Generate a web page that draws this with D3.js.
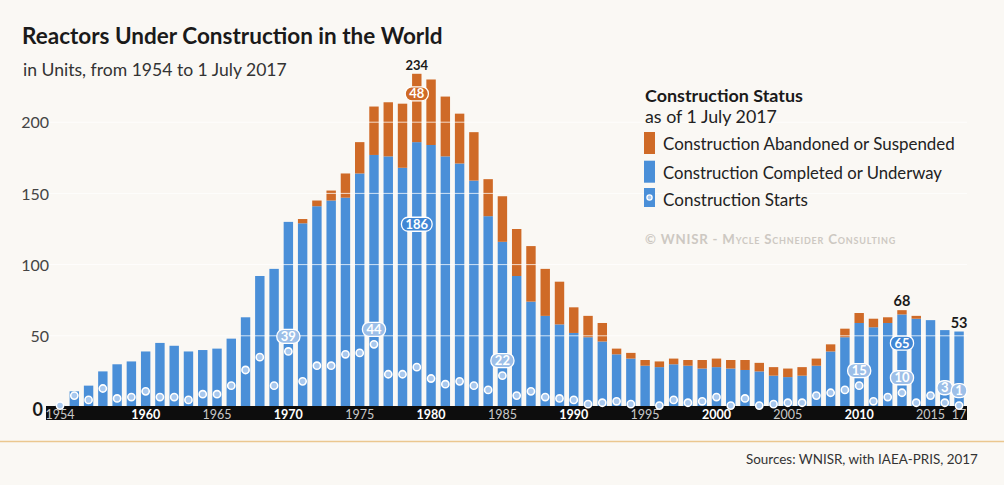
<!DOCTYPE html>
<html><head><meta charset="utf-8">
<script src="https://cdn.jsdelivr.net/npm/d3@7"></script>
<style>body{margin:0;background:#faf8f4}svg{display:block}</style>
</head><body>
<svg id="c" width="1004" height="485"></svg>
<script>
// ---- data ----
const years = [1954,1955,1956,1957,1958,1959,
  1960,1961,1962,1963,1964,1965,1966,1967,1968,1969,
  1970,1971,1972,1973,1974,1975,1976,1977,1978,1979,
  1980,1981,1982,1983,1984,1985,1986,1987,1988,1989,
  1990,1991,1992,1993,1994,1995,1996,1997,1998,1999,
  2000,2001,2002,2003,2004,2005,2006,2007,2008,2009,
  2010,2011,2012,2013,2014,2015,2016,2017];
const completed = [1,11,15,25,30,32,
  39,45,43,39,40,41,48,63,92,97,
  130,129,141,145,147,164,177,176,168,186,
  184,176,171,159,134,116,92,74,64,58,
  52,49,46,37,34,29,28,30,29,27,
  28,27,26,25,22,21,22,29,39,49,
  59,56,59,65,62,61,54,53];
const abandoned = [0,0,0,0,0,0,
  0,0,0,0,0,0,0,0,0,0,
  0,3,4,7,17,22,34,38,45,48,
  46,42,35,34,26,32,33,39,33,30,
  18,15,13,4,4,4,4,4,4,6,
  6,6,7,6,6,6,6,5,5,6,
  7,6,4,3,2,0,0,0];
const starts = [1,8,5,13,6,7,
  11,7,7,5,9,9,15,26,35,15,
  39,18,29,29,37,38,44,23,23,28,
  20,16,18,15,12,22,8,11,7,6,
  5,2,3,4,2,0,1,5,3,4,
  7,1,6,1,2,3,3,8,10,12,
  15,4,7,10,3,8,3,1];
const yTicks = [0,50,100,150,200];
const xTickYears = [1954,1960,1965,1970,1975,1980,1985,1990,1995,2000,2005,2010,2015,2017];
const boldYears = [1960,1970,1980,1990,2000,2010];
const totalLabelYears = [1979,2013,2017];
const startsLabelYears = [1970,1976,1985,2010,2013,2016,2017];
const completedLabelYears = [1979,2013];
const abandonedLabelYears = [1979];
const legendItems = ["Construction Abandoned or Suspended","Construction Completed or Underway","Construction Starts"];

// ---- setup ----
const BLUE = "#4a8fd8", ORANGE = "#cf6a27", FONT = "Lato, 'Noto Sans', sans-serif";
const svg = d3.select("#c");
svg.append("rect").attr("width",1004).attr("height",485).attr("fill","#faf8f4");

const data = years.map((y,i)=>({year:y, blue:completed[i], orange:abandoned[i], total:completed[i]+abandoned[i], starts:starts[i]}));
const byYear = new Map(data.map(d=>[d.year,d]));

const x = d3.scaleBand().domain(years).range([52.9,966.2]).paddingInner(0.34).paddingOuter(0.17);
const y = d3.scaleLinear().domain([0,250]).range([407,51]);
const cx = yr => x(yr) + x.bandwidth()/2;

function fit(sel, w){
  const n = sel.node(); const fs = parseFloat(sel.attr("font-size"));
  const len = n.getComputedTextLength(); if(len>0) sel.attr("font-size", fs*w/len);
  return sel;
}

// title
fit(svg.append("text").attr("x",22).attr("y",44).attr("font-family",FONT).attr("font-weight",700)
  .attr("font-size",22).attr("fill","#1a1a1a").text("Reactors Under Construction in the World"),421);
fit(svg.append("text").attr("x",23).attr("y",76).attr("font-family",FONT)
  .attr("font-size",16).attr("fill","#333").text("in Units, from 1954 to 1 July 2017"),264);

// bars
const g = svg.append("g");
g.selectAll("rect.blue").data(data).join("rect").attr("class","blue")
  .attr("x",d=>x(d.year)).attr("width",x.bandwidth())
  .attr("y",d=>y(d.blue)).attr("height",d=>y(0)-y(d.blue)).attr("fill",BLUE);
g.selectAll("rect.orange").data(data.filter(d=>d.orange>0)).join("rect").attr("class","orange")
  .attr("x",d=>x(d.year)).attr("width",x.bandwidth())
  .attr("y",d=>y(d.total)).attr("height",d=>y(d.blue)-y(d.total)).attr("fill",ORANGE);

// white gridlines over bars
svg.append("g").selectAll("line").data(yTicks.filter(t=>t>0)).join("line")
  .attr("x1",46).attr("x2",967).attr("y1",d=>y(d)).attr("y2",d=>y(d))
  .attr("stroke","#fff").attr("stroke-opacity",0.75).attr("stroke-width",1);

// y axis
const yAxis = svg.append("g").attr("transform","translate(49,0)")
  .call(d3.axisLeft(y).tickValues(yTicks).tickSize(0).tickPadding(0));
yAxis.select(".domain").remove();
yAxis.selectAll("text").attr("font-family",FONT).attr("font-size",16).attr("fill","#444").attr("dy","0.35em");
yAxis.selectAll(".tick").filter(d=>d===0).select("text")
  .attr("font-size",18).attr("font-weight",700).attr("fill","#1a1a1a").attr("x",-6).attr("dy","0.45em");

// x axis band
svg.append("rect").attr("x",46).attr("y",406).attr("width",921).attr("height",14).attr("fill","#0d0d0d");
const xAxis = svg.append("g").attr("transform","translate(0,406)")
  .call(d3.axisBottom(x).tickValues(xTickYears).tickSize(0).tickPadding(0)
    .tickFormat(d=> d===2017 ? "17" : String(d)));
xAxis.select(".domain").remove();
xAxis.selectAll("text").attr("font-family",FONT).attr("font-size",12.5).attr("y",12.6).attr("dy",0)
  .attr("fill",d=>boldYears.includes(d)?"#fff":"#c9c9c9")
  .attr("font-weight",d=>boldYears.includes(d)?700:400);

// construction starts dots
svg.append("g").selectAll("circle").data(data.filter(d=>d.starts>0)).join("circle")
  .attr("cx",d=>cx(d.year)).attr("cy",d=>y(d.starts)).attr("r",3.6)
  .attr("fill","#a8c8ee").attr("stroke","#fff").attr("stroke-width",1.6);

// pill labels
function pill(xc, yc, txt, fill, fs){
  const gg = svg.append("g");
  const t = gg.append("text").attr("x",xc).attr("y",yc).attr("dy","0.36em").attr("text-anchor","middle")
    .attr("font-family",FONT).attr("font-weight",700).attr("font-size",fs).attr("fill","#fff").text(txt);
  const w = t.node().getComputedTextLength() + 8;
  gg.insert("rect","text").attr("x",xc-w/2).attr("y",yc-7).attr("width",w).attr("height",14)
    .attr("rx",6.5).attr("fill",fill).attr("stroke","#fff").attr("stroke-width",1.3);
}
startsLabelYears.forEach(yr=>{const d=byYear.get(yr); pill(cx(yr), y(d.starts)-15, d.starts, "#9dbfe8", 13);});
completedLabelYears.forEach(yr=>{const d=byYear.get(yr); pill(cx(yr), y(d.blue*0.69), d.blue, "#3f86d4", 13);});
abandonedLabelYears.forEach(yr=>{const d=byYear.get(yr); pill(cx(yr), y(d.total)+20, d.orange, ORANGE, 13);});

// total labels
svg.append("g").selectAll("text").data(totalLabelYears.map(yr=>byYear.get(yr))).join("text")
  .attr("x",d=>cx(d.year)).attr("y",d=>y(d.total)-4).attr("text-anchor","middle")
  .attr("font-family",FONT).attr("font-weight",700).attr("font-size",d=>d.year===1979?13:14.5)
  .attr("fill","#1a1a1a").text(d=>d.total);

// legend
fit(svg.append("text").attr("x",645).attr("y",101.5).attr("font-family",FONT).attr("font-weight",700)
  .attr("font-size",16).attr("fill","#1a1a1a").text("Construction Status"),158);
fit(svg.append("text").attr("x",645).attr("y",123.3).attr("font-family",FONT)
  .attr("font-size",16).attr("fill","#222").text("as of 1 July 2017"),132);
const legY = [150,178.7,206], legW = [292,279,145], legC = [ORANGE,BLUE,BLUE];
legendItems.forEach((lab,i)=>{
  svg.append("rect").attr("x",644).attr("y",legY[i]-18).attr("width",11).attr("height",i===2?19:22).attr("fill",legC[i]);
  fit(svg.append("text").attr("x",663).attr("y",legY[i]).attr("font-family",FONT)
    .attr("font-size",16).attr("fill","#222").text(lab),legW[i]);
});
svg.append("circle").attr("cx",649.5).attr("cy",legY[2]-8.5).attr("r",2.6)
  .attr("fill","#a8c8ee").attr("stroke","#fff").attr("stroke-width",1.3);
fit(svg.append("text").attr("x",645).attr("y",244).attr("font-family",FONT).attr("font-weight",700)
  .attr("font-size",11).attr("letter-spacing",0.8).style("font-variant","small-caps")
  .attr("fill","#cdc8c2").text("© WNISR - Mycle Schneider Consulting"),266);

// footer
svg.append("line").attr("x1",0).attr("x2",1004).attr("y1",441.5).attr("y2",441.5)
  .attr("stroke","#ebc78f").attr("stroke-width",1.5);
fit(svg.append("text").attr("x",746).attr("y",464).attr("font-family",FONT)
  .attr("font-size",13).attr("fill","#333").text("Sources: WNISR, with IAEA-PRIS, 2017"),232);
</script>
</body></html>
